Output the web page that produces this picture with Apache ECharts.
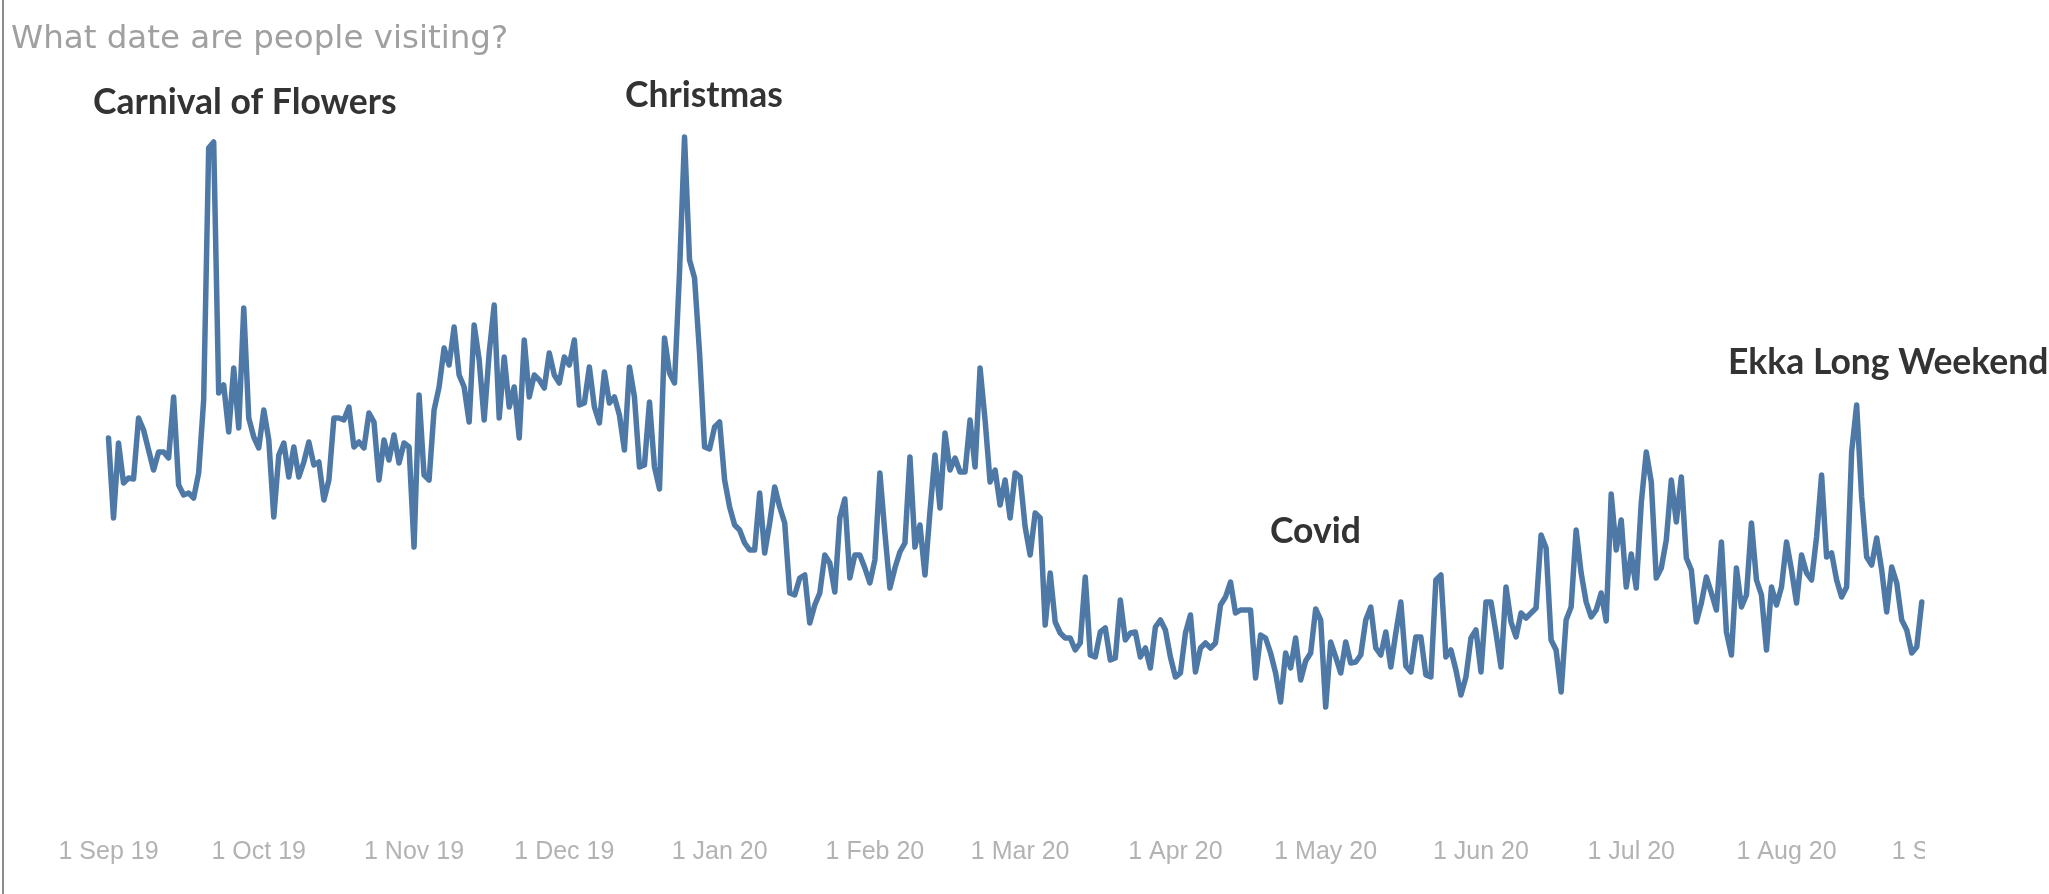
<!DOCTYPE html>
<html>
<head>
<meta charset="utf-8">
<script src="https://cdn.jsdelivr.net/npm/echarts@6/dist/echarts.min.js"></script>
<style>
  html, body { margin: 0; padding: 0; background: #ffffff; }
  #chart { width: 2049px; height: 894px; }
</style>
</head>
<body>
<div id="chart"></div>
<script>
// Daily visits, one array per month (1 Sep 2019 – 28 Aug 2020)
const sep19 = [322,242,317,277,282,281,342,330,310,290,308,308,302,363,275,265,267,262,287,360,612,618,367,375,328,392,332,452,342,323];
const oct19 = [312,350,320,243,305,317,283,313,283,298,318,295,298,260,280,342,342,340,353,313,318,312,347,338,280,320,300,325,297,317,313];
const nov19 = [213,365,285,280,350,373,412,395,433,385,373,338,435,400,340,407,455,342,403,353,373,322,420,363,385,380,372,407,385,377];
const dec19 = [403,395,420,355,357,393,353,337,388,357,363,345,310,393,363,293,295,358,293,271,422,387,377,488,623,500,482,407,313,311,333];
const jan20 = [338,280,253,235,230,217,210,210,267,207,237,273,253,237,167,165,182,185,137,155,167,205,197,168,242,261,182,205,205,192,177];
const feb20 = [200,287,227,172,192,208,217,303,213,235,185,248,305,252,327,290,302,288,288,340,293,392,340,278,290,255,280,242,287];
const mar20 = [283,233,205,247,242,135,187,138,127,122,122,110,117,183,105,103,128,132,100,102,160,120,127,128,103,112,92,133,140,130,103];
const apr20 = [83,87,127,145,88,112,117,112,117,155,163,178,147,150,150,150,82,125,122,107,87,58,107,92,122,80,99,107,151,140];
const may20 = [53,118,103,87,118,97,98,105,140,153,112,105,128,93,127,158,94,88,123,123,85,83,180,185,103,110,90,65,83,122,130];
const jun20 = [88,158,158,127,93,173,138,123,147,142,147,152,225,212,120,110,68,140,153,230,187,158,143,150,167,139,266,210,240,173];
const jul20 = [206,172,257,308,278,182,192,220,280,238,283,202,190,138,157,183,167,150,218,128,105,192,153,165,237,180,165,110,173,155,173];
const aug20 = [218,190,157,205,187,180,223,285,203,207,180,163,173,308,355,263,203,195,222,190,148,193,177,140,130,107,113,158];

// Month-start ticks and their labels
const tickDates  = ['2019-09-01','2019-10-01','2019-11-01','2019-12-01','2020-01-01','2020-02-01','2020-03-01','2020-04-01','2020-05-01','2020-06-01','2020-07-01','2020-08-01','2020-09-01'];
const tickLabels = ['1 Sep 19','1 Oct 19','1 Nov 19','1 Dec 19','1 Jan 20','1 Feb 20','1 Mar 20','1 Apr 20','1 May 20','1 Jun 20','1 Jul 20','1 Aug 20','1 Sep 20'];

// Event labels
const title = 'What date are people visiting?';
const events = ['Carnival of Flowers', 'Christmas', 'Covid', 'Ekka Long Weekend'];

// One category per calendar day, from the first to the last tick date
const firstDay = Date.UTC(2019, 8, 1);
const lastDay = Date.UTC(2020, 8, 1);
const days = [];
for (let t = firstDay; t <= lastDay; t += 86400000) {
  days.push(new Date(t).toISOString().slice(0, 10));
}

const visits = [].concat(sep19, oct19, nov19, dec19, jan20, feb20, mar20, apr20, may20, jun20, jul20, aug20);

const chart = echarts.init(document.getElementById('chart'), null, { renderer: 'canvas' });

const annoStyle = {
  fill: '#333333',
  font: 'bold 35.5px Lato, "Noto Sans", sans-serif',
  textVerticalAlign: 'middle',
  textAlign: 'left'
};

chart.setOption({
  animation: false,
  backgroundColor: '#ffffff',
  grid: { left: 108.5, right: 107.2, top: 130, bottom: 134, containLabel: false },
  xAxis: {
    type: 'category',
    data: days,
    boundaryGap: false,
    axisLine: { show: false },
    axisTick: { show: false },
    splitLine: { show: false },
    axisLabel: {
      margin: 80,
      color: '#b3b3b3',
      fontFamily: '"Liberation Sans", Arial, sans-serif',
      fontSize: 25,
      interval: (i, v) => tickDates.indexOf(v) >= 0,
      formatter: v => tickLabels[tickDates.indexOf(v)] || ''
    }
  },
  yAxis: {
    type: 'value',
    min: 0,
    max: 630,
    show: false
  },
  series: [{
    type: 'line',
    data: visits,
    showSymbol: false,
    smooth: false,
    lineStyle: { color: '#4e79a7', width: 5.5, join: 'round', cap: 'round' },
    itemStyle: { color: '#4e79a7' }
  }],
  graphic: [
    { type: 'line', shape: { x1: 3, y1: 0, x2: 3, y2: 894 }, style: { stroke: '#8c8c8c', lineWidth: 2 } },
    { type: 'text', left: 11, top: 23, style: { text: title, fill: '#a0a0a0', font: '32.5px "DejaVu Sans", sans-serif' } },
    { type: 'text', x: 93, y: 103, style: Object.assign({ text: events[0] }, annoStyle) },
    { type: 'text', x: 625, y: 96, style: Object.assign({ text: events[1] }, annoStyle) },
    { type: 'text', x: 1270, y: 532, style: Object.assign({ text: events[2] }, annoStyle) },
    { type: 'text', x: 1728, y: 363, style: Object.assign({ text: events[3] }, annoStyle) },
    // the pane edge cuts the last month label
    { type: 'rect', z: 100, shape: { x: 1925, y: 825, width: 124, height: 55 }, style: { fill: '#ffffff' } }
  ]
});
</script>
</body>
</html>
